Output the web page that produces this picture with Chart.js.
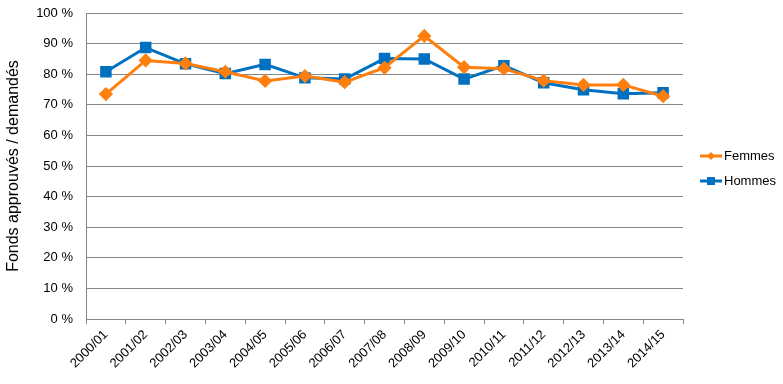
<!DOCTYPE html>
<html>
<head>
<meta charset="utf-8">
<script src="https://cdn.jsdelivr.net/npm/chart.js@4/dist/chart.umd.min.js"></script>
<style>
  html, body { margin: 0; padding: 0; background: #fff; }
  #wrap { width: 783px; height: 384px; }
</style>
</head>
<body>
<div id="wrap"><canvas id="chart"></canvas></div>
<script>
const years = ['2000/01', '2001/02', '2002/03', '2003/04', '2004/05', '2005/06', '2006/07', '2007/08',
               '2008/09', '2009/10', '2010/11', '2011/12', '2012/13', '2013/14', '2014/15'];
const femmes = [73.5, 84.5, 83.5, 80.8, 77.8, 79.4, 77.4, 82.1, 92.5, 82.3, 81.8, 77.9, 76.5, 76.5, 72.8];
const hommes = [80.8, 88.7, 83.4, 80.2, 83.2, 78.8, 78.4, 85.1, 85.0, 78.4, 82.8, 77.2, 74.9, 73.6, 73.9];

const orange = '#FF7F0E';
const blue = '#0070C0';
const font = "'Liberation Sans', Arial, sans-serif";

// legend drawn by hand: a short line with the marker on it, like the original
const sideLegend = {
    id: 'sideLegend',
    afterDraw(chart) {
        const ctx = chart.ctx;
        chart.data.datasets.forEach((ds, i) => {
            const y = 156 + i * 25;
            const x = 700;
            ctx.save();
            ctx.strokeStyle = ds.borderColor;
            ctx.lineWidth = 3;
            ctx.beginPath();
            ctx.moveTo(x, y);
            ctx.lineTo(x + 22, y);
            ctx.stroke();
            ctx.fillStyle = ds.backgroundColor;
            if (ds.pointStyle === 'rect') {
                ctx.fillRect(x + 11 - 4, y - 4, 8, 8);
            } else {
                ctx.beginPath();
                ctx.moveTo(x + 11, y - 4);
                ctx.lineTo(x + 15, y);
                ctx.lineTo(x + 11, y + 4);
                ctx.lineTo(x + 7, y);
                ctx.closePath();
                ctx.fill();
            }
            ctx.fillStyle = '#000';
            ctx.font = '13px ' + font;
            ctx.textBaseline = 'middle';
            ctx.fillText(ds.label, x + 24, y);
            ctx.restore();
        });
    }
};

new Chart(document.getElementById('chart'), {
    type: 'line',
    data: {
        labels: years,
        datasets: [
            {
                label: 'Femmes',
                data: femmes,
                borderColor: orange,
                backgroundColor: orange,
                borderWidth: 3,
                pointStyle: 'rectRot',
                pointRadius: 5,
                tension: 0
            },
            {
                label: 'Hommes',
                data: hommes,
                borderColor: blue,
                backgroundColor: blue,
                borderWidth: 3,
                pointStyle: 'rect',
                pointRadius: 6,
                tension: 0
            }
        ]
    },
    options: {
        responsive: true,
        maintainAspectRatio: false,
        animation: false,
        layout: { padding: { top: 13, right: 100, left: 4, bottom: 0 } },
        plugins: {
            legend: { display: false },
            tooltip: { enabled: false }
        },
        scales: {
            x: {
                offset: true,
                grid: {
                    offset: true,
                    drawOnChartArea: false,
                    drawTicks: true,
                    tickLength: 5,
                    color: '#868686'
                },
                border: { color: '#868686', width: 1 },
                ticks: {
                    minRotation: 45,
                    maxRotation: 45,
                    color: '#000',
                    font: { family: font, size: 13 }
                },
                afterFit(scale) { scale.height = 65; }
            },
            y: {
                min: 0,
                max: 100,
                ticks: {
                    stepSize: 10,
                    padding: 13,
                    color: '#000',
                    font: { family: font, size: 13 },
                    callback: v => v + ' %'
                },
                grid: { color: '#868686', drawTicks: false },
                border: { color: '#868686', width: 1 },
                title: {
                    display: true,
                    text: 'Fonds approuvés / demandés',
                    color: '#000',
                    padding: { top: 0, bottom: 0 },
                    font: { family: font, size: 16 }
                },
                afterFit(scale) {
                    scale.width = 82;
                    scale.paddingTop = 0;
                    scale.paddingBottom = 0;
                }
            }
        }
    },
    plugins: [sideLegend]
});
</script>
</body>
</html>
